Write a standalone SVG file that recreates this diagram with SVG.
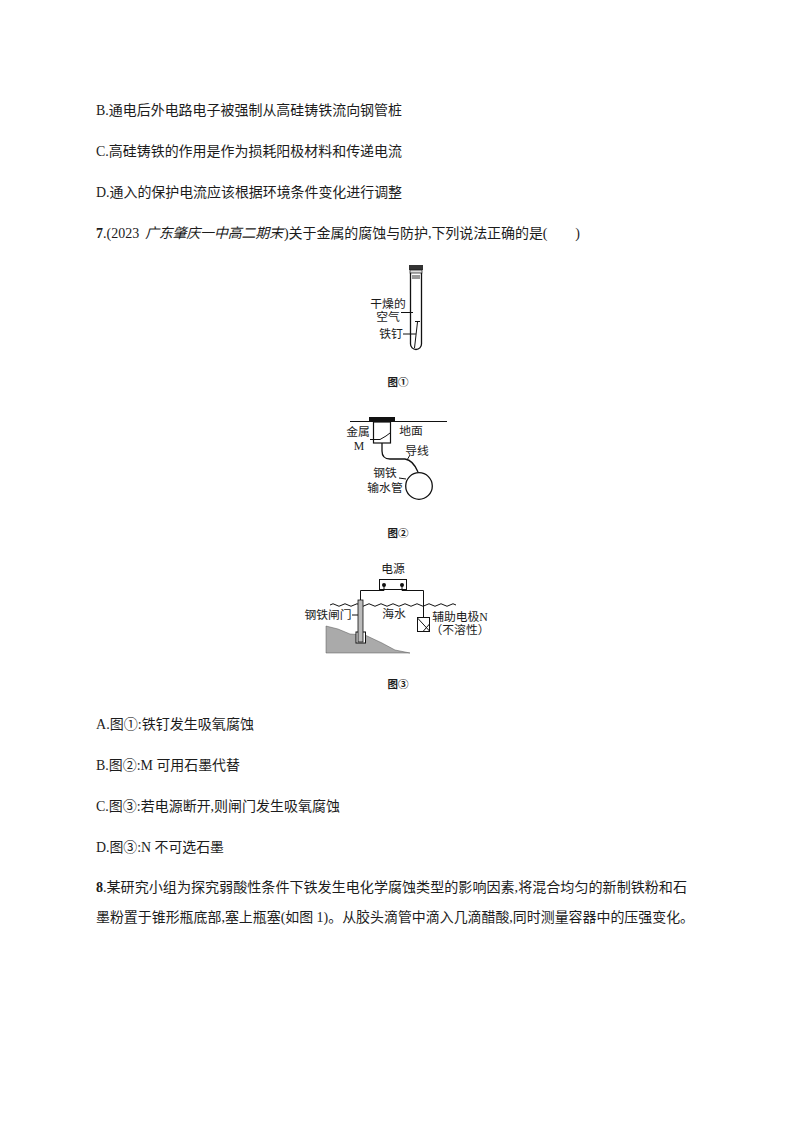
<svg xmlns="http://www.w3.org/2000/svg" width="794" height="1123" viewBox="0 0 794 1123">
<style>
text{font-family:"Liberation Serif","Noto Sans CJK SC",serif;fill:#1c1c1c}
.b{font-size:14px}
.f{font-size:11.8px}
.c{font-size:10.5px;text-anchor:middle;font-weight:bold}
.m{text-anchor:middle}
.l{fill:none;stroke:#111;stroke-width:1}
.t{fill:none;stroke:#111;stroke-width:1.3}
</style>
<rect width="794" height="1123" fill="#fff"/>
<g id="body">
<text class="b" x="96" y="115" textLength="306" lengthAdjust="spacingAndGlyphs">B.通电后外电路电子被强制从高硅铸铁流向钢管桩</text>
<text class="b" x="96" y="156" textLength="306" lengthAdjust="spacingAndGlyphs">C.高硅铸铁的作用是作为损耗阳极材料和传递电流</text>
<text class="b" x="96" y="197" textLength="306" lengthAdjust="spacingAndGlyphs">D.通入的保护电流应该根据环境条件变化进行调整</text>
<text class="b" x="96" y="238"><tspan font-weight="bold">7</tspan>.(2023</text>
<text class="b" x="145" y="238" font-style="italic" textLength="138" lengthAdjust="spacing" fill="#444">广东肇庆一中高二期末</text>
<text class="b" x="284" y="238" textLength="296" lengthAdjust="spacing">)关于金属的腐蚀与防护,下列说法正确的是(　　)</text>
<text class="b" x="96" y="729" textLength="158" lengthAdjust="spacingAndGlyphs">A.图①:铁钉发生吸氧腐蚀</text>
<text class="b" x="96" y="770" textLength="144" lengthAdjust="spacingAndGlyphs">B.图②:M 可用石墨代替</text>
<text class="b" x="96" y="811" textLength="244" lengthAdjust="spacingAndGlyphs">C.图③:若电源断开,则闸门发生吸氧腐蚀</text>
<text class="b" x="96" y="852" textLength="128" lengthAdjust="spacingAndGlyphs">D.图③:N 不可选石墨</text>
<text class="b" x="96" y="892" textLength="591" lengthAdjust="spacingAndGlyphs"><tspan font-weight="bold">8</tspan>.某研究小组为探究弱酸性条件下铁发生电化学腐蚀类型的影响因素,将混合均匀的新制铁粉和石</text>
<text class="b" x="96" y="922" textLength="598" lengthAdjust="spacingAndGlyphs">墨粉置于锥形瓶底部,塞上瓶塞(如图 1)。从胶头滴管中滴入几滴醋酸,同时测量容器中的压强变化。</text>
</g>
<g id="figure1">
<rect x="409" y="265" width="14" height="5" fill="#333"/>
<rect x="410" y="270" width="12" height="3" fill="#ddd" stroke="#111" stroke-width=".7"/>
<rect x="412" y="275" width="8" height="4" fill="#999"/>
<path class="t" d="M410.500 273V344a5.500 5.500 0 0 0 11 0V273"/>
<path class="l" d="M401 312.500H413M403 334H416M417.500 322L414.500 348M415 321.500H420"/>
<text class="f m" x="388" y="308">干燥的</text>
<text class="f m" x="388" y="321">空气</text>
<text class="f m" x="391" y="338">铁钉</text>
<text class="c" x="398" y="386">图①</text>
</g>
<g id="figure2">
<path class="l" d="M350 421.500H447"/>
<rect x="369" y="417" width="26" height="5" fill="#111"/>
<rect x="373.500" y="422" width="17" height="21" fill="#fff" stroke="#111" stroke-width="1.200"/>
<path class="l" d="M370 439.500H380L386 436L390 433"/>
<path class="t" d="M382 443V451Q382 459 390 459H405Q413 460 418 472"/>
<path class="l" d="M410 455L407 460"/>
<circle cx="419" cy="486" r="13.300" fill="#fff" stroke="#111" stroke-width="1.300"/>
<path class="l" d="M399 478L406 479"/>
<text class="f m" x="358" y="436">金属</text>
<text class="f m" x="359" y="450">M</text>
<text class="f m" x="411" y="435">地面</text>
<text class="f m" x="417" y="455">导线</text>
<text class="f m" x="385" y="477">钢铁</text>
<text class="f m" x="385" y="492">输水管</text>
<text class="c" x="398" y="537">图②</text>
</g>
<g id="figure3">
<path d="M326 626L338 629L350 634L365 635L382 643L395 650L410 653H326Z" fill="#aaa" stroke="#555" stroke-width=".5"/>
<path class="l" d="M330 605q3-2.500 6 0t6 0t6 0t6 0t6 0t6 0t6 0t6 0t6 0t6 0t6 0t6 0t6 0t6 0t6 0t6 0t6 0t6 0t6 0t6 0t6 0"/>
<rect x="379.500" y="579.500" width="27" height="10" fill="#fff" stroke="#111"/>
<path class="l" d="M384 585V590.500H360.500V600M402 585V590.500H423.500V617"/>
<circle cx="384" cy="585" r="2" fill="#111"/>
<circle cx="402" cy="585" r="2" fill="#111"/>
<rect x="356" y="632" width="9.500" height="11" fill="#fff" stroke="#111"/>
<rect x="358" y="600" width="5" height="42" fill="#bbb" stroke="#111" stroke-width=".8"/>
<rect x="417.500" y="617.500" width="12" height="14" fill="#fff" stroke="#111"/>
<path class="l" d="M417.500 618L429.500 631M423 631.500L429.500 624"/>
<path class="l" d="M352 615H358"/>
<text class="f m" x="393" y="573">电源</text>
<text class="f m" x="328" y="619">钢铁闸门</text>
<text class="f m" x="394" y="618">海水</text>
<text class="f m" x="460" y="621">辅助电极N</text>
<text class="f m" x="460" y="634">（不溶性）</text>
<text class="c" x="398" y="688">图③</text>
</g>
</svg>
